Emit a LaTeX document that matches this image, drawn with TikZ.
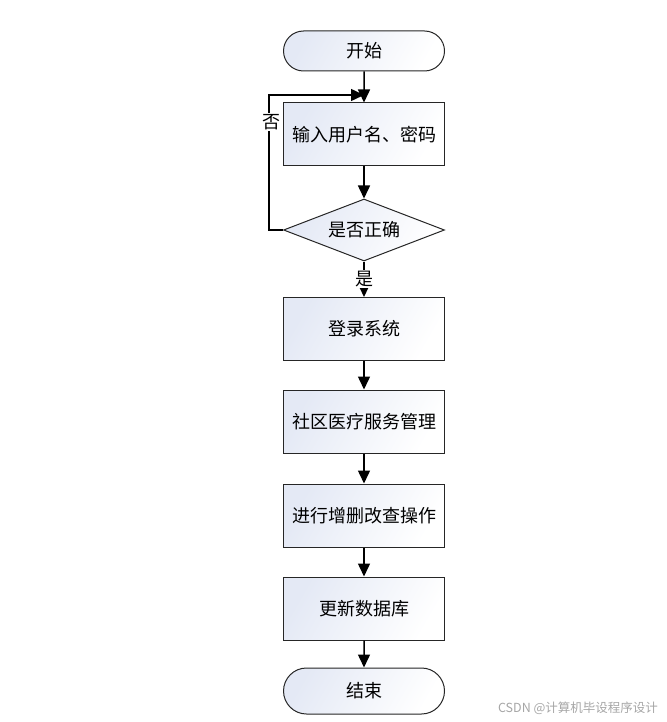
\documentclass[tikz,border=0pt]{standalone}
\usepackage{fontspec}
\setmainfont{Noto Sans CJK SC}
\usepackage{tikz}
\usetikzlibrary{positioning,shapes,arrows.meta}
\definecolor{boxtint}{HTML}{E4E9F5}

\begin{document}
\begin{tikzpicture}[x=1pt,y=-1pt,inner sep=0mm,
  font=\fontsize{18}{20}\selectfont,
  fillc/.style={left color=boxtint,right color=white,shading angle=60},
  proc/.style={rectangle,draw=black!85,line width=1pt,fillc,minimum width=161pt,minimum height=63pt},
  term/.style={rounded rectangle,draw=black!85,line width=1pt,fillc,minimum width=161pt,minimum height=40pt},
  dec/.style={diamond,draw=black!85,line width=1pt,fillc,aspect=2.6,minimum width=161pt,minimum height=62pt},
  flow/.style={line width=1.5pt,-{Triangle[length=13pt,width=12pt]}}]
\useasboundingbox (0,0) rectangle (666,722);

\node (start) at (364,51) [term] {开始};
\node (input) at (364,134.5) [proc] {输入用户名、密码};
\node (check) at (364,230) [dec] {是否正确};
\node (login) at (364,329) [proc] {登录系统};
\node (manage) at (364,421.5) [proc] {社区医疗服务管理};
\node (edit) at (364,515.5) [proc] {进行增删改查操作};
\node (update) at (364,608.5) [proc] {更新数据库};
\node (finish) at (364,691) [term,minimum height=46pt] {结束};
\coordinate (back) at (364,95);

\draw[flow] (start) -- (input);
\draw[flow] (input) -- (check);
\draw[flow] (check.west) -- ++(-14,0) |- (back);
\node at (271,122) [fill=white,inner sep=1pt] {否};
\draw[flow] (check) -- node[fill=white,inner sep=1pt] {是} (login);
\draw[flow] (login) -- (manage);
\draw[flow] (manage) -- (edit);
\draw[flow] (edit) -- (update);
\draw[flow] (update) -- (finish);

% watermark
\node (mark) at (578,708) [text=black!35,font=\fontsize{12.5}{14}\selectfont] {CSDN @计算机毕设程序设计};
\end{tikzpicture}
\end{document}
